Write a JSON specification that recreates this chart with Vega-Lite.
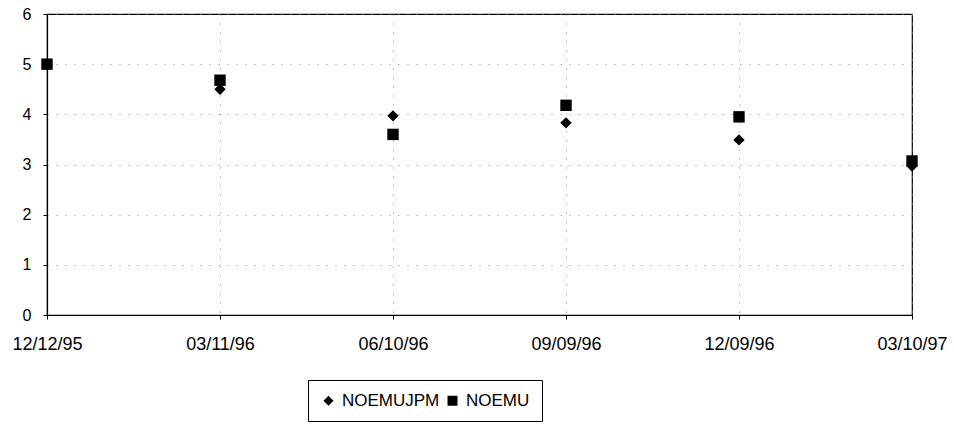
{
  "$schema": "https://vega.github.io/schema/vega-lite/v6.json",
  "autosize": "none",
  "padding": {"left": 47, "top": 14, "right": 42, "bottom": 109},
  "width": 865,
  "height": 301,
  "background": "white",
  "config": {
    "font": "Liberation Sans",
    "view": {"stroke": "black", "strokeWidth": 1.2},
    "axis": {
      "domainColor": "black",
      "domainWidth": 1.2,
      "tickColor": "black",
      "tickSize": 4,
      "labelColor": "black",
      "gridColor": "#888",
      "gridDash": [1, 8],
      "gridWidth": 1
    }
  },
  "data": {
    "values": [
      {"date": "12/12/95", "series": "NOEMUJPM", "value": 5.0},
      {"date": "03/11/96", "series": "NOEMUJPM", "value": 4.5},
      {"date": "06/10/96", "series": "NOEMUJPM", "value": 3.97},
      {"date": "09/09/96", "series": "NOEMUJPM", "value": 3.83},
      {"date": "12/09/96", "series": "NOEMUJPM", "value": 3.49},
      {"date": "03/10/97", "series": "NOEMUJPM", "value": 2.97},
      {"date": "12/12/95", "series": "NOEMU", "value": 5.0},
      {"date": "03/11/96", "series": "NOEMU", "value": 4.68},
      {"date": "06/10/96", "series": "NOEMU", "value": 3.6},
      {"date": "09/09/96", "series": "NOEMU", "value": 4.18},
      {"date": "12/09/96", "series": "NOEMU", "value": 3.95},
      {"date": "03/10/97", "series": "NOEMU", "value": 3.07}
    ]
  },
  "mark": {"type": "point", "filled": true, "opacity": 1, "size": 130, "color": "black", "clip": false},
  "encoding": {
    "x": {
      "field": "date",
      "type": "ordinal",
      "sort": null,
      "scale": {"type": "point", "padding": 0},
      "axis": {
        "title": null,
        "labelAngle": 0,
        "labelFontSize": 18,
        "labelPadding": 16,
        "grid": true,
        "offset": 0
      }
    },
    "y": {
      "field": "value",
      "type": "quantitative",
      "scale": {"domain": [0, 6], "nice": false},
      "axis": {
        "title": null,
        "values": [0, 1, 2, 3, 4, 5, 6],
        "labelFontSize": 16,
        "labelPadding": 12,
        "grid": true
      }
    },
    "shape": {
      "field": "series",
      "type": "nominal",
      "sort": ["NOEMUJPM", "NOEMU"],
      "scale": {"domain": ["NOEMUJPM", "NOEMU"], "range": ["diamond", "square"]},
      "legend": {
        "title": null,
        "orient": "none",
        "legendX": 261,
        "legendY": 366,
        "direction": "horizontal",
        "strokeColor": "black",
        "padding": 12,
        "labelFontSize": 17,
        "labelColor": "black",
        "symbolSize": 100,
        "symbolFillColor": "black",
        "symbolStrokeColor": "black",
        "columnPadding": 4,
        "labelOffset": 5
      }
    }
  }
}
